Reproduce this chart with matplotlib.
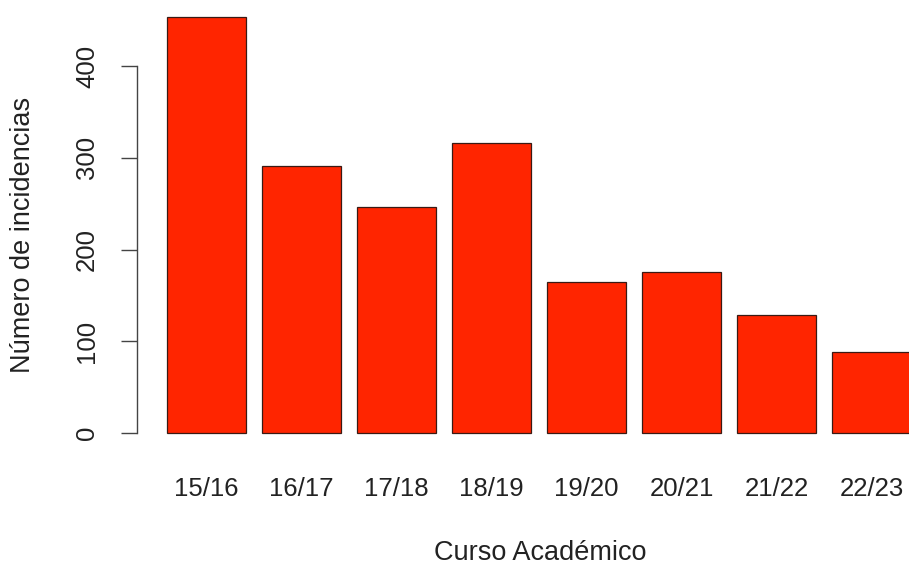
import numpy as np
import matplotlib.pyplot as plt

# Incidencias por curso academico
cursos = ['15/16', '16/17', '17/18', '18/19', '19/20', '20/21', '21/22', '22/23']
incidencias = [453, 291, 246, 316, 165, 175, 129, 88]
yticks = [0, 100, 200, 300, 400]

plt.rcParams['font.family'] = ['Liberation Sans', 'DejaVu Sans']

W, H = 909, 566
fig = plt.figure(figsize=(W / 100, H / 100), dpi=100)
ax = fig.add_axes([0, 0, 1, 1])

# R barplot geometry: width 1, space 0.2
px_x = 79.17        # pixels per x unit
x0_px = 151.2       # pixel of x = 0
px_y = 0.9175       # pixels per count
y0_px = 433         # pixel (from top) of y = 0
ax.set_xlim(-x0_px / px_x, (W - x0_px) / px_x)
ax.set_ylim(-(H - y0_px) / px_y, y0_px / px_y)

lefts = 0.2 + 1.2 * np.arange(len(cursos))
centers = lefts + 0.5
ax.bar(centers, incidencias, width=1.0, color='#FF2500', edgecolor='#3a1a14',
       linewidth=0.9, clip_on=False)

for s in ['top', 'right']:
    ax.spines[s].set_visible(False)
ax.spines['left'].set_position(('data', 0.2 - 0.376))
ax.spines['left'].set_bounds(0, 400)
ax.spines['left'].set_color('#444444')
ax.spines['left'].set_linewidth(1.0)
ax.spines['bottom'].set_position(('data', 0))
ax.spines['bottom'].set_visible(False)

ax.set_yticks(yticks)
ax.set_yticklabels([str(v) for v in yticks], rotation=90, va='center')
ax.tick_params(axis='y', length=11.5, width=1.0, color='#444444', pad=16,
               labelsize=18.5, labelcolor='#222222')
ax.set_xticks(centers)
ax.set_xticklabels(cursos)
ax.tick_params(axis='x', length=0, pad=32, labelsize=18.5, labelcolor='#222222')

fig.text(23 / W, 1 - 235 / H, 'Número de incidencias', rotation=90,
         ha='center', va='center', fontsize=19.5, color='#222222')
fig.text(540 / W, 1 - 553 / H, 'Curso Académico',
         ha='center', va='center', fontsize=19.5, color='#222222')

fig.savefig('out.png', dpi=100)
